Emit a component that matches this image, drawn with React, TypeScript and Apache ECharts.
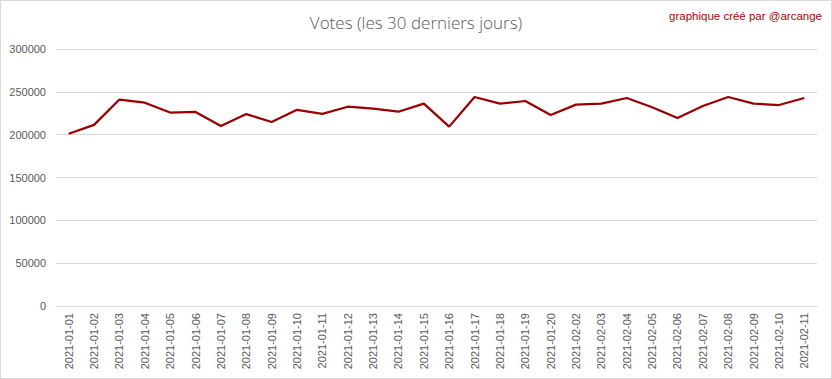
import React, { useEffect, useRef } from "react";
import * as echarts from "echarts";

const categories = [
  "2021-01-01", "2021-01-02", "2021-01-03", "2021-01-04", "2021-01-05",
  "2021-01-06", "2021-01-07", "2021-01-08", "2021-01-09", "2021-01-10",
  "2021-01-11", "2021-01-12", "2021-01-13", "2021-01-14", "2021-01-15",
  "2021-01-16", "2021-01-17", "2021-01-18", "2021-01-19", "2021-01-20",
  "2021-02-02", "2021-02-03", "2021-02-04", "2021-02-05", "2021-02-06",
  "2021-02-07", "2021-02-08", "2021-02-09", "2021-02-10", "2021-02-11",
];

const votes = [
  201000, 211400, 241000, 237300, 225800,
  226500, 210000, 224000, 214800, 229000,
  224300, 232600, 230300, 226800, 236300,
  209400, 244000, 236200, 239300, 223000,
  235100, 236300, 242800, 232000, 219400,
  233500, 244000, 236200, 234600, 242800,
];

const titleText = "Votes (les 30 derniers jours)";
const creditText = "graphique créé par @arcange";

export default function App() {
  const ref = useRef<HTMLDivElement>(null);
  useEffect(() => {
    if (!ref.current) return;
    const chart = echarts.init(ref.current, undefined, { renderer: "svg" });
    chart.setOption({
      animation: false,
      backgroundColor: "#ffffff",
      title: {
        text: titleText,
        left: "center",
        top: 9,
        textStyle: {
          fontFamily: "Open Sans",
          fontWeight: 300,
          fontSize: 17,
          color: "#595959",
        },
      },
      graphic: [
        {
          type: "rect",
          shape: { x: 0.5, y: 0.5, width: 831, height: 378 },
          style: { fill: "none", stroke: "#d9d9d9", lineWidth: 1 },
          silent: true,
        },
        {
          type: "text",
          right: 10,
          top: 10,
          style: {
            text: creditText,
            fill: "#b00000",
            fontFamily: "Liberation Sans",
            fontSize: 11.5,
          },
        },
      ],
      grid: { left: 56, right: 15, top: 49, bottom: 73 },
      xAxis: {
        type: "category",
        data: categories,
        boundaryGap: true,
        axisLine: { lineStyle: { color: "#d9d9d9" } },
        axisTick: { show: false },
        axisLabel: {
          rotate: 90,
          interval: 0,
          margin: 7,
          color: "#595959",
          fontFamily: "Liberation Sans",
          fontSize: 11,
        },
      },
      yAxis: {
        type: "value",
        min: 0,
        max: 300000,
        interval: 50000,
        axisLine: { show: false },
        axisTick: { show: false },
        splitLine: { lineStyle: { color: "#d9d9d9" } },
        axisLabel: {
          margin: 10,
          color: "#595959",
          fontFamily: "Liberation Sans",
          fontSize: 11,
          formatter: (v: number) => String(v),
        },
      },
      series: [
        {
          type: "line",
          data: votes,
          symbol: "none",
          lineStyle: { color: "#990000", width: 2.25 },
          itemStyle: { color: "#990000" },
        },
      ],
    });
    return () => chart.dispose();
  }, []);
  return (
    <div
      ref={ref}
      style={{ position: "absolute", left: 0, top: 0, width: 832, height: 379 }}
    />
  );
}
